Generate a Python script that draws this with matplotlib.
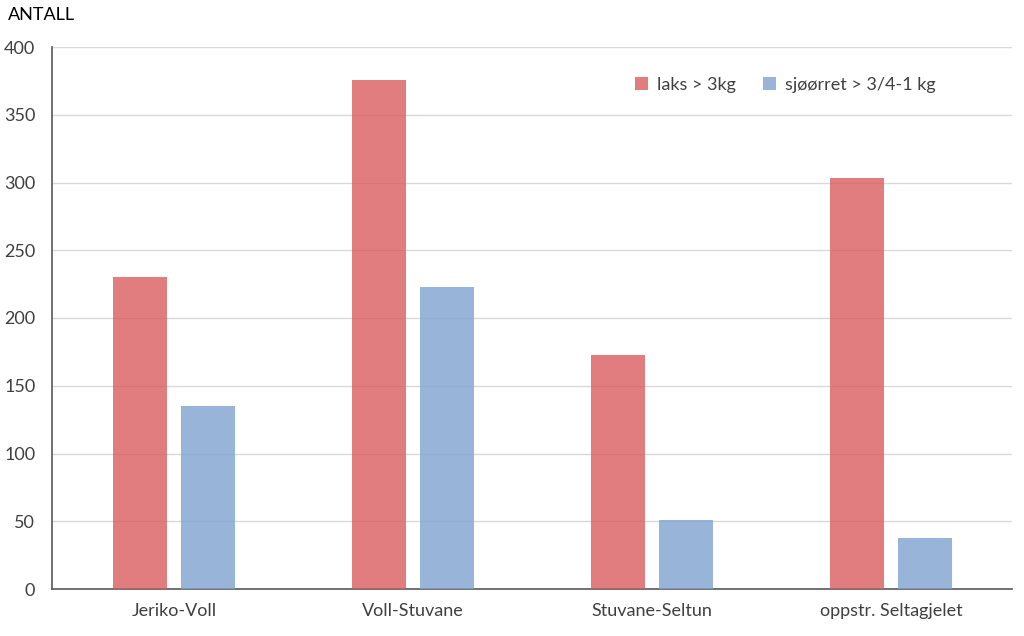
import numpy as np
import matplotlib
matplotlib.use("Agg")
import matplotlib.pyplot as plt

plt.rcParams['font.family'] = ['Lato', 'DejaVu Sans']

categories = ["Jeriko-Voll", "Voll-Stuvane", "Stuvane-Seltun", "oppstr. Seltagjelet"]
laks = [230, 376, 173, 303]
sjoorret = [135, 223, 51, 38]
series_names = ["laks > 3kg", "sjøørret > 3/4-1 kg"]

fig = plt.figure(figsize=(10.24, 6.36), dpi=100)
ax = fig.add_axes([52 / 1024, 47 / 636, 960 / 1024, 542 / 636])

x = np.arange(len(categories))
w = 0.226
gap = 0.059
ax.bar(x - (w + gap) / 2, laks, w, color="#d9595b", alpha=0.78, label=series_names[0], zorder=3)
ax.bar(x + (w + gap) / 2, sjoorret, w, color="#7fa2cf", alpha=0.8, label=series_names[1], zorder=3)

ax.set_xlim(-0.5 - 2.5 / 239, len(categories) - 0.5 + 1.5 / 239)
ax.set_ylim(0, 400)
ax.set_yticks(range(0, 401, 50))
ax.set_xticks(x)
ax.set_xticklabels(categories)
ax.tick_params(axis="both", length=0, labelsize=13, colors="#404040")
ax.tick_params(axis="x", pad=10)
ax.tick_params(axis="y", pad=12)
ax.grid(axis="y", color="#d9d9d9", linewidth=1, zorder=0)
ax.set_axisbelow(True)

for s in ["top", "right"]:
    ax.spines[s].set_visible(False)
for s in ["left", "bottom"]:
    ax.spines[s].set_color("#595959")
    ax.spines[s].set_linewidth(1.2)

fig.text(8 / 1024, 1 - 15 / 636, "ANTALL", fontsize=13, color="black", va="center")

ax.legend(loc="upper right", bbox_to_anchor=(0.937, 0.975), ncol=2, frameon=False,
          fontsize=13, handlelength=0.7, handleheight=0.7, columnspacing=1.5,
          handletextpad=0.5, labelcolor="#404040")

fig.savefig("out.png", dpi=100)
